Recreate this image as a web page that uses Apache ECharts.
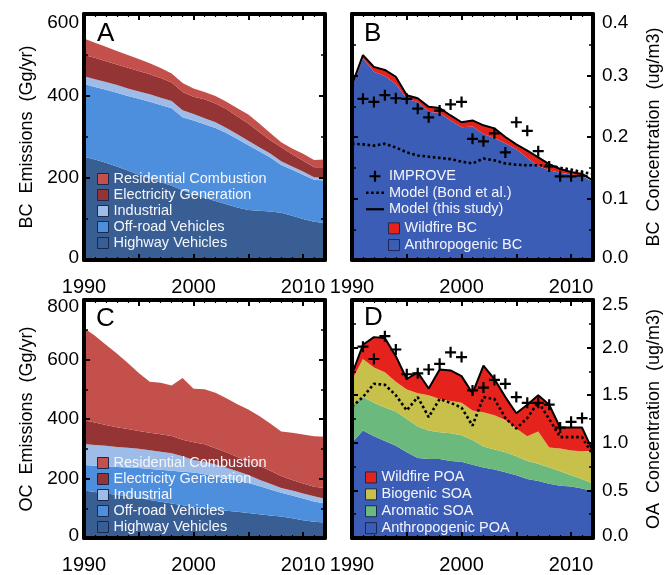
<!DOCTYPE html>
<html>
<head>
<meta charset="utf-8">
<script src="https://cdn.jsdelivr.net/npm/echarts@6/dist/echarts.min.js"></script>
<style>
  html, body { margin: 0; padding: 0; background: #fff; }
  #chart { width: 666px; height: 575px; }
</style>
</head>
<body>
<div id="chart"></div>
<script>
// ---- data -------------------------------------------------------------
const years    = [1990,1991,1992,1993,1994,1995,1996,1997,1998,1999,2000,2001,2002,2003,2004,2005,2006,2007,2008,2009,2010,2011,2012];
const obsYears = [1991,1992,1993,1994,1995,1996,1997,1998,1999,2000,2001,2002,2003,2004,2005,2006,2007,2008,2009,2010,2011];

// A: BC emissions by sector (Gg/yr)
const bcHighway     = [252,245,237,228,218,208,198,190,181,170,160,152,144,136,128,122,120,118,115,108,100,93,90];
const bcOffroad     = [177,177,178,180,182,185,188,188,189,178,180,179,178,174,167,158,145,132,117,112,108,103,104];
const bcIndustrial  = [19,19,19,19,18,18,18,18,18,17,16,15,14,12,12,11,10,10,9,8,8,6,6];
const bcElectricity = [52,52,51,50,51,50,49,48,45,45,42,46,46,46,43,42,37,32,34,30,26,24,26];
const bcResidential = [40,37,35,33,31,29,27,24,22,22,20,18,18,18,20,22,21,18,12,14,17,18,19];

// B: BC surface concentration (ug/m3)
const bcAnthro   = [0.281,0.328,0.306,0.299,0.286,0.262,0.257,0.241,0.239,0.227,0.216,0.217,0.205,0.198,0.190,0.180,0.166,0.153,0.146,0.142,0.139,0.137,0.127];
const bcWildfire = [0.004,0.005,0.008,0.010,0.012,0.006,0.006,0.008,0.008,0.008,0.008,0.010,0.014,0.016,0.010,0.008,0.012,0.014,0.010,0.006,0.004,0.003,0.002];
const bcBond     = [0.189,0.188,0.186,0.189,0.183,0.175,0.170,0.168,0.166,0.164,0.160,0.157,0.165,0.162,0.157,0.155,0.154,0.154,0.154,0.150,0.147,0.143,0.140];
const bcImprove  = [0.262,0.257,0.268,0.263,0.262,0.246,0.232,0.243,0.253,0.257,0.197,0.193,0.206,0.175,0.224,0.210,0.177,0.152,0.136,0.136,0.137];

// C: OC emissions by sector (Gg/yr)
const ocHighway     = [160,155,150,145,140,135,128,122,116,110,105,100,96,92,88,84,80,76,72,66,60,55,52];
const ocOffroad     = [85,88,91,94,97,100,104,107,110,113,115,114,111,108,105,101,95,87,80,77,73,68,64];
const ocIndustrial  = [71,70,69,67,66,65,63,61,59,52,42,42,40,36,31,27,21,19,16,17,17,17,16];
const ocElectricity = [80,75,70,66,63,60,59,59,58,55,60,59,55,52,48,46,47,44,40,35,33,32,36];
const ocResidential = [310,292,270,248,222,195,171,173,170,208,180,185,186,182,178,174,167,159,150,159,165,170,172];

// D: OA surface concentration (ug/m3)
const oaAnthroPOA = [1.00,1.13,1.07,1.02,0.97,0.90,0.84,0.83,0.83,0.81,0.80,0.77,0.74,0.72,0.69,0.66,0.62,0.60,0.57,0.55,0.54,0.52,0.49];
const oaAromatic  = [0.40,0.35,0.35,0.35,0.36,0.35,0.33,0.30,0.28,0.29,0.28,0.26,0.22,0.21,0.21,0.20,0.19,0.18,0.17,0.15,0.12,0.10,0.08];
const oaBiogenic  = [0.26,0.40,0.37,0.37,0.31,0.31,0.35,0.37,0.35,0.34,0.34,0.31,0.36,0.36,0.34,0.29,0.26,0.34,0.21,0.24,0.26,0.29,0.33];
const oaWildfire  = [0.06,0.15,0.32,0.36,0.27,0.11,0.22,0.07,0.31,0.32,0.28,0.18,0.49,0.38,0.24,0.16,0.33,0.38,0.45,0.22,0.24,0.25,0.01];
const oaBond      = [1.38,1.48,1.62,1.61,1.50,1.34,1.48,1.27,1.46,1.42,1.37,1.18,1.48,1.46,1.26,1.15,1.26,1.43,1.25,1.06,1.06,1.06,0.87];
const oaImprove   = [2.01,1.88,2.12,1.98,1.72,1.73,1.77,1.83,1.95,1.90,1.55,1.58,1.66,1.62,1.48,1.42,1.42,1.40,1.16,1.22,1.26];

// ---- styling ----------------------------------------------------------
const FONT = '"Liberation Sans", Arial, Helvetica, sans-serif';
const C = {
  residential: '#c4504c', electricity: '#943434', industrial: '#9dbde8',
  offroad: '#4d8fdd', highway: '#385e93',
  anthro: '#3c5db5', wildfire: '#e6221d', biogenic: '#c7c14b', aromatic: '#6bb97c'
};
const PLUS = 'path://M4,0H6V4H10V6H6V10H4V6H0V4H4Z';
const DOTTED_ICON = 'path://M0,0H2.5V2.5H0Z M5,0H7.5V2.5H5Z M10,0H12.5V2.5H10Z M15,0H17.5V2.5H15Z';
const SOLID_ICON = 'path://M0,0H18V2.2H0Z';
const yearCats = years.map(String);

// Per grid: [value axis bottom (frame, ticks, labels), value axis top (frame, ticks), hidden category axis for the series]
function xAxes(g) {
  const common = {
    type: 'value', gridIndex: g, min: 1990, max: 2012, interval: 5, z: 5,
    axisLine: { show: true, onZero: false, lineStyle: { color: '#000', width: 4 } },
    axisTick: { show: true, inside: true, length: 6, lineStyle: { color: '#000', width: 2 } },
    minorTick: { show: true, splitNumber: 5, length: 3, lineStyle: { color: '#000', width: 1.2 } },
    splitLine: { show: false }, minorSplitLine: { show: false }
  };
  return [
    Object.assign({}, common, {
      position: 'bottom',
      axisLabel: { show: true, margin: 17, color: '#000', fontSize: 20, fontFamily: FONT,
        formatter: v => (v % 10 === 0 ? String(v) : '') }
    }),
    Object.assign({}, common, { position: 'top', axisLabel: { show: false } }),
    { type: 'category', gridIndex: g, data: yearCats, boundaryGap: false, show: false, position: 'bottom' }
  ];
}

// topShift: how far the topmost tick label sits below its tick
function yAxes(g, max, interval, side, name, gap, topShift) {
  const common = {
    type: 'value', gridIndex: g, min: 0, max: max, interval: interval, z: 5,
    axisLine: { show: true, onZero: false, lineStyle: { color: '#000', width: 4 } },
    axisTick: { show: true, inside: true, length: 6, lineStyle: { color: '#000', width: 2 } },
    minorTick: { show: true, splitNumber: 2, length: 4, lineStyle: { color: '#000', width: 1.5 } },
    splitLine: { show: false }, minorSplitLine: { show: false }
  };
  const digits = interval < 1 ? 1 : 0;
  const base = { fontSize: 19, fontFamily: FONT, color: '#000' };
  return [
    Object.assign({}, common, {
      position: side, name: name, nameLocation: 'middle', nameGap: gap, nameRotate: 90,
      nameTextStyle: { fontSize: 18, color: '#000', fontFamily: FONT },
      axisLabel: {
        show: true, margin: side === 'left' ? 5 : 9, color: '#000', fontSize: 19, fontFamily: FONT,
        formatter: v => {
          const s = v.toFixed(digits);
          if (Math.abs(v - max) < 1e-9) return '{hi|' + s + '}';
          if (v === 0) return '{lo|' + s + '}';
          return s;
        },
        rich: {
          hi: Object.assign({ padding: [topShift * 2, 0, 0, 0] }, base),
          lo: Object.assign({ padding: [0, 0, 5, 0] }, base)
        }
      }
    }),
    Object.assign({}, common, { position: side === 'left' ? 'right' : 'left', axisLabel: { show: false } })
  ];
}

function area(g, stack, name, vals, color) {
  return {
    type: 'line', name: name, xAxisIndex: g * 3 + 2, yAxisIndex: g * 2, stack: stack,
    data: vals, symbol: 'none', silent: true,
    lineStyle: { width: 0 }, itemStyle: { color: color },
    areaStyle: { color: color, opacity: 1 }, emphasis: { disabled: true }
  };
}

function sumOf(a, b) { return a.map((v, i) => +(v + b[i]).toFixed(3)); }
function sum4(a, b, c, d) { return a.map((v, i) => +(v + b[i] + c[i] + d[i]).toFixed(3)); }

function modelLine(g, name, vals, dotted) {
  return {
    type: 'line', name: name, xAxisIndex: g * 3 + 2, yAxisIndex: g * 2, z: 3,
    data: vals, symbol: 'none', silent: true,
    itemStyle: { color: '#000' },
    lineStyle: { color: '#000', width: dotted ? 2.6 : 2, type: dotted ? [2.6, 2.6] : 'solid' },
    emphasis: { disabled: true }
  };
}

function crosses(g, vals) {
  return {
    type: 'scatter', name: 'IMPROVE', xAxisIndex: g * 3 + 2, yAxisIndex: g * 2, z: 3,
    data: obsYears.map((y, i) => [String(y), vals[i]]), symbol: PLUS, symbolSize: 11, silent: true,
    itemStyle: { color: '#000', opacity: 1 }, emphasis: { disabled: true }
  };
}

function boxLegend(left, top, names, pitch) {
  return {
    left: left, top: top, orient: 'vertical', padding: 0, itemGap: 0,
    itemWidth: 11, itemHeight: 11, icon: 'rect', selectedMode: false,
    itemStyle: { borderColor: '#1a2850', borderWidth: 1 },
    textStyle: { color: '#f3f5fb', fontSize: 14.5, fontFamily: FONT, lineHeight: pitch },
    data: names
  };
}

const sectorNames = ['Residential Combustion', 'Electricity Generation', 'Industrial', 'Off-road Vehicles', 'Highway Vehicles'];

const letter = (t, left, top) => ({
  text: t, left: left, top: top, padding: 0,
  textStyle: { fontSize: 26, fontWeight: 'normal', color: '#000', fontFamily: FONT }
});

const option = {
  animation: false,
  backgroundColor: '#fff',
  textStyle: { fontFamily: FONT },
  title: [letter('A', 97, 21), letter('B', 364, 21), letter('C', 96, 306), letter('D', 364, 305)],
  grid: [
    { left: 84,  top: 14,  width: 241, height: 246 },
    { left: 352, top: 14,  width: 241, height: 246 },
    { left: 84,  top: 300, width: 241, height: 244 },
    { left: 352, top: 300, width: 241, height: 244 }
  ],
  xAxis: [].concat(xAxes(0), xAxes(1), xAxes(2), xAxes(3)),
  yAxis: [].concat(
    yAxes(0, 600, 200, 'left', 'BC  Emissions  (Gg/yr)', 48, 9),
    yAxes(1, 0.4, 0.1, 'right', 'BC  Concentration  (ug/m3)', 52, 9),
    yAxes(2, 800, 200, 'left', 'OC  Emissions  (Gg/yr)', 48, 7),
    yAxes(3, 2.5, 0.5, 'right', 'OA  Concentration  (ug/m3)', 52, 5)
  ),
  legend: [
    boxLegend(97, 171, sectorNames, 16),
    boxLegend(97, 455, sectorNames, 16),
    {
      left: 366, top: 168, orient: 'vertical', padding: 0, itemGap: 0,
      itemWidth: 18, itemHeight: 11, selectedMode: false,
      textStyle: { color: '#f3f5fb', fontSize: 14.5, fontFamily: FONT, lineHeight: 16.5 },
      data: [
        { name: 'IMPROVE', icon: PLUS },
        { name: 'Model (Bond et al.)', icon: DOTTED_ICON },
        { name: 'Model (this study)', icon: SOLID_ICON }
      ]
    },
    boxLegend(388, 220, ['Wildfire BC', 'Anthropogenic BC'], 16.7),
    boxLegend(365, 469, ['Wildfire POA', 'Biogenic SOA', 'Aromatic SOA', 'Anthropogenic POA'], 16.9)
  ],
  series: [
    // A
    area(0, 'bcEmis', 'Highway Vehicles', bcHighway, C.highway),
    area(0, 'bcEmis', 'Off-road Vehicles', bcOffroad, C.offroad),
    area(0, 'bcEmis', 'Industrial', bcIndustrial, C.industrial),
    area(0, 'bcEmis', 'Electricity Generation', bcElectricity, C.electricity),
    area(0, 'bcEmis', 'Residential Combustion', bcResidential, C.residential),
    // B
    area(1, 'bcConc', 'Anthropogenic BC', bcAnthro, C.anthro),
    area(1, 'bcConc', 'Wildfire BC', bcWildfire, C.wildfire),
    modelLine(1, 'Model (Bond et al.)', bcBond, true),
    modelLine(1, 'Model (this study)', sumOf(bcAnthro, bcWildfire), false),
    crosses(1, bcImprove),
    // C
    area(2, 'ocEmis', 'Highway Vehicles', ocHighway, C.highway),
    area(2, 'ocEmis', 'Off-road Vehicles', ocOffroad, C.offroad),
    area(2, 'ocEmis', 'Industrial', ocIndustrial, C.industrial),
    area(2, 'ocEmis', 'Electricity Generation', ocElectricity, C.electricity),
    area(2, 'ocEmis', 'Residential Combustion', ocResidential, C.residential),
    // D
    area(3, 'oaConc', 'Anthropogenic POA', oaAnthroPOA, C.anthro),
    area(3, 'oaConc', 'Aromatic SOA', oaAromatic, C.aromatic),
    area(3, 'oaConc', 'Biogenic SOA', oaBiogenic, C.biogenic),
    area(3, 'oaConc', 'Wildfire POA', oaWildfire, C.wildfire),
    modelLine(3, 'OA Model (Bond et al.)', oaBond, true),
    modelLine(3, 'OA Model (this study)', sum4(oaAnthroPOA, oaAromatic, oaBiogenic, oaWildfire), false),
    crosses(3, oaImprove)
  ]
};

const chart = echarts.init(document.getElementById('chart'), null, { renderer: 'canvas', width: 666, height: 575 });
chart.setOption(option);
</script>
</body>
</html>
